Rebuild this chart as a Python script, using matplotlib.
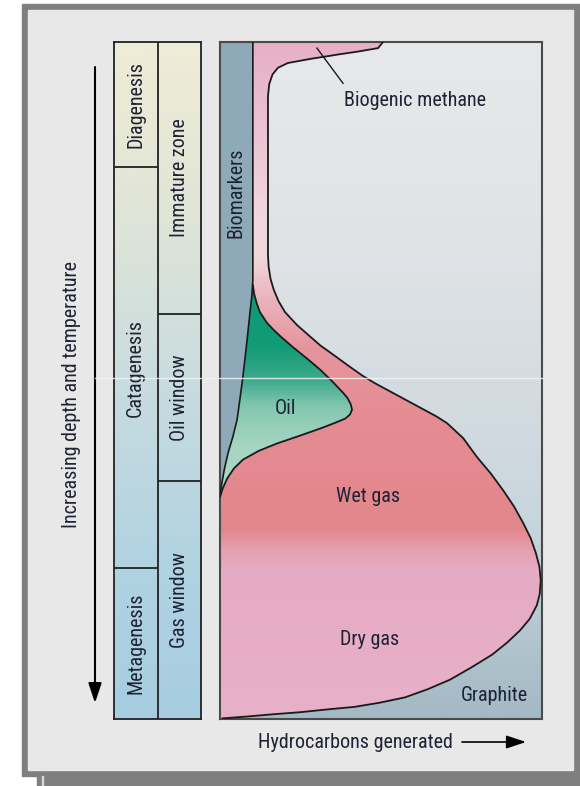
import numpy as np
import matplotlib.pyplot as plt
from matplotlib.colors import LinearSegmentedColormap
from matplotlib.patches import Polygon, Rectangle

plt.rcParams['font.family'] = ['Roboto Condensed', 'Archivo Narrow', 'DejaVu Sans']

# depth runs 0 (surface) .. 100 (deepest); hydrocarbons generated 0 .. 100
stages = ['Diagenesis', 'Catagenesis', 'Metagenesis']
stage_edges = [0, 18.5, 77.7, 100]
zones = ['Immature zone', 'Oil window', 'Gas window']
zone_edges = [0, 40.2, 64.8, 100]

# outer envelope of all generated gas (biogenic methane at top, wet/dry gas below)
gas_x = [50.6, 49.1, 43.0, 37.3, 28.0, 21.1, 18.0, 16.3, 15.3, 14.9, 14.9, 14.9,
         15.1, 15.7, 16.7, 18.2, 20.2, 23.9, 27.5, 31.1, 35.5, 40.4, 44.3, 48.1,
         52.0, 55.9, 59.8, 63.7, 67.2, 70.5, 75.5, 79.8, 84.2, 87.9, 91.3, 94.1,
         96.5, 98.1, 99.2, 99.6, 99.3, 98.4, 96.2, 93.2, 89.2, 84.5, 78.0, 71.4,
         64.5, 57.5, 49.5, 41.9, 33.0, 24.8, 16.5, 9.3, 0.9]
gas_y = [0, 0.9, 1.4, 1.8, 2.5, 3.1, 3.8, 4.8, 6.2, 8.0, 23.3, 31.5,
         33.2, 35.0, 36.6, 38.3, 39.9, 41.8, 43.3, 44.8, 46.3, 48.0, 49.3, 50.4,
         51.4, 52.4, 53.4, 54.4, 55.3, 56.3, 58.5, 61.3, 63.8, 66.2, 68.6, 71.0,
         73.3, 75.5, 77.5, 79.5, 81.5, 83.2, 85.2, 86.9, 88.7, 90.5, 92.4, 94.2,
         95.6, 96.8, 97.6, 98.2, 98.6, 99.0, 99.3, 99.6, 99.9]

# oil / gas boundary: top of the oil body, round its tip, down to the left edge
oil_x = [10.2, 10.6, 11.4, 12.4, 14.6, 16.6, 18.6, 22.7, 26.9, 31.1, 34.8, 38.2,
         39.6, 40.6, 41.0, 40.4, 39.0, 35.5, 31.1, 24.5, 17.7, 12.0, 7.1, 4.3,
         2.2, 0.8, 0]
oil_y = [35.9, 37.2, 38.6, 39.9, 41.5, 42.5, 43.4, 45.1, 46.7, 48.4, 50.1, 51.8,
         52.6, 53.5, 54.3, 55.0, 55.6, 56.3, 57.1, 58.2, 59.3, 60.4, 61.7, 63.0,
         64.5, 66.0, 67.2]

# right edge of the biomarker band
bio_x = [10.2, 10.2, 9.9, 9.3, 8.3, 7.1, 6.2, 5.3, 4.0, 2.5, 1.4, 0.6, 0]
bio_y = [0, 35.2, 37.5, 40.0, 44.5, 49.5, 52.7, 55.8, 58.3, 60.7, 63.0, 65.1, 66.9]

# colour stops (depth, colour)
bg_stops = [(0, '#e7e8ea'), (30, '#e0e3e6'), (50, '#d5dce1'), (70, '#c9d6dd'),
            (85, '#b7c9d2'), (100, '#a3b9c4')]
gas_stops = [(0, '#e6b0c6'), (10, '#e9bfd0'), (25, '#efd6dd'), (32, '#efd6db'),
             (38, '#eab3bc'), (45, '#e6959e'), (55, '#e58c94'), (72, '#e2878b'),
             (75, '#e59fae'), (78, '#e6abc4'), (100, '#e8b0c9')]
oil_stops = [(0, '#0f9a74'), (45, '#129c76'), (50, '#3eab8e'), (54, '#86c7b1'),
             (60, '#a6d6c2'), (100, '#b8e0d0')]
table_stops = [(0, '#efecd6'), (20, '#e4e6d6'), (40, '#d2e0dc'), (60, '#c0d8e0'),
               (80, '#afd2e2'), (100, '#a6cde0')]

ink = '#1e2233'
fs = 14.5


def ramp(stops):
    return LinearSegmentedColormap.from_list(
        'r', [(d / 100, c) for d, c in stops])


def gradient(axis, stops, x1, z, clip=None):
    img = axis.imshow(np.linspace(0, 1, 400).reshape(-1, 1), extent=(0, x1, 100, 0),
                      cmap=ramp(stops), aspect='auto', zorder=z, interpolation='bilinear')
    if clip is not None:
        img.set_clip_path(clip)
    return img


fig = plt.figure(figsize=(5.8, 7.86), dpi=100)
fig.patch.set_facecolor('white')

# picture frame
bg = fig.add_axes([0, 0, 1, 1], zorder=0)
bg.set_xlim(0, 580)
bg.set_ylim(786, 0)
bg.axis('off')
bg.add_patch(Rectangle((22, 4), 558, 772, color='#7f7f7f'))
bg.add_patch(Rectangle((37, 776), 543, 10, color='#7f7f7f'))
bg.add_patch(Rectangle((41.5, 776), 1.5, 10, color='#d8d8d8'))
bg.add_patch(Rectangle((28, 10), 545, 760, color='#e8e8e8'))

bg.annotate('', xy=(95, 703), xytext=(95, 67),
            arrowprops=dict(arrowstyle='-|>,head_length=0.6,head_width=0.2',
                            color='black', lw=1.5, mutation_scale=20, shrinkA=0, shrinkB=0))
bg.text(72, 395, 'Increasing depth and temperature', rotation=90,
        ha='center', va='center', fontsize=fs, color=ink)
bg.text(453, 742, 'Hydrocarbons generated', ha='right', va='center',
        fontsize=fs, color=ink)
bg.annotate('', xy=(526, 742), xytext=(462, 742),
            arrowprops=dict(arrowstyle='-|>,head_length=0.6,head_width=0.2',
                            color='black', lw=1.2, mutation_scale=20, shrinkA=0, shrinkB=0))

# stage / zone table
bottom = 1 - 719 / 786
height = 677 / 786
tab = fig.add_axes([114 / 580, bottom, 87 / 580, height], zorder=1)
gradient(tab, table_stops, 2, 0)
tab.set_xlim(0, 2)
tab.set_ylim(100, 0)
tab.set_xticks([])
tab.set_yticks([])
for s in tab.spines.values():
    s.set_color('#222222')
    s.set_linewidth(1.3)
tab.axvline(1, color='#222222', lw=1.3)
tab.hlines(stage_edges[1:-1], 0, 1, color='#222222', lw=1.3)
tab.hlines(zone_edges[1:-1], 1, 2, color='#222222', lw=1.3)
for i, name in enumerate(stages):
    tab.text(0.5, (stage_edges[i] + stage_edges[i + 1]) / 2, name, rotation=90,
             ha='center', va='center', fontsize=fs, color=ink)
for i, name in enumerate(zones):
    tab.text(1.5, (zone_edges[i] + zone_edges[i + 1]) / 2, name, rotation=90,
             ha='center', va='center', fontsize=fs, color=ink)

# main diagram
ax = fig.add_axes([220 / 580, bottom, 322 / 580, height], zorder=1)
gradient(ax, bg_stops, 100, 0)

bio_poly = Polygon([(0, 0)] + list(zip(bio_x, bio_y)), closed=True,
                   facecolor='#8eaab9', edgecolor='none', zorder=1)
ax.add_patch(bio_poly)

oil_pts = list(zip(oil_x, oil_y))
gas_outline = (list(zip(gas_x, gas_y)) + [(0, 100)] + oil_pts[::-1] + [(bio_x[0], bio_y[0])])
gas_clip = Polygon(gas_outline, closed=True, transform=ax.transData)
gradient(ax, gas_stops, 100, 2, clip=gas_clip)

oil_outline = oil_pts + list(zip(bio_x, bio_y))[::-1][:-1]
oil_clip = Polygon(oil_outline, closed=True, transform=ax.transData)
gradient(ax, oil_stops, 100, 3, clip=oil_clip)

ax.plot(gas_x, gas_y, color='#1a1a1a', lw=1.3, zorder=4, solid_joinstyle='round')
ax.plot(oil_x, oil_y, color='#1a1a1a', lw=1.3, zorder=4, solid_joinstyle='round')
ax.plot(bio_x, bio_y, color='#1a1a1a', lw=1.2, zorder=4, solid_joinstyle='round')
ax.plot([30.1, 38.2], [0.9, 6.1], color='#1a1a1a', lw=1.0, zorder=4)

ax.text(5.0, 22.2, 'Biomarkers', rotation=90, ha='center', va='center',
        fontsize=fs, color=ink, zorder=5)
ax.text(60.6, 8.6, 'Biogenic methane', ha='center', va='center',
        fontsize=fs, color=ink, zorder=5)
ax.text(20.2, 54.1, 'Oil', ha='center', va='center', fontsize=fs, color=ink, zorder=5)
ax.text(46.0, 67.2, 'Wet gas', ha='center', va='center', fontsize=fs, color=ink, zorder=5)
ax.text(46.6, 88.3, 'Dry gas', ha='center', va='center', fontsize=fs, color=ink, zorder=5)
ax.text(95.7, 96.5, 'Graphite', ha='right', va='center', fontsize=fs, color=ink, zorder=5)

ax.set_xlim(0, 100)
ax.set_ylim(100, 0)
ax.set_xticks([])
ax.set_yticks([])
for s in ax.spines.values():
    s.set_color('#4a4a4a')
    s.set_linewidth(1.5)

# faint scan line crossing the picture
top = fig.add_axes([0, 0, 1, 1], zorder=5)
top.set_xlim(0, 580)
top.set_ylim(786, 0)
top.axis('off')
top.plot([95, 545], [378, 378], color='#f2f2f2', lw=1.0, alpha=0.85)

fig.savefig('out.png', dpi=100)
